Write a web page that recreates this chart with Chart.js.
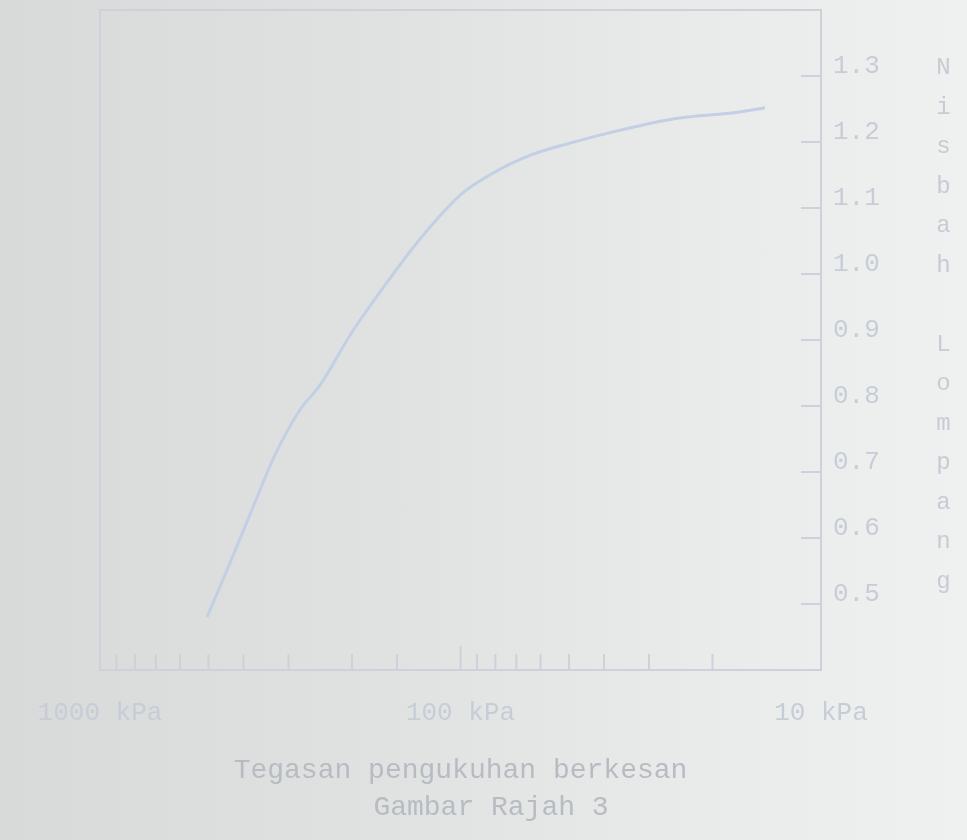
<!DOCTYPE html>
<html>
<head>
<meta charset="utf-8">
<script src="https://cdn.jsdelivr.net/npm/chart.js@4.4.1/dist/chart.umd.min.js"></script>
<style>
  html, body { margin: 0; padding: 0; }
  body {
    width: 967px; height: 840px; overflow: hidden; position: relative;
    background: linear-gradient(90deg, #d8dad9 0%, #e0e2e1 40%, #e9ebeb 72%, #eff1f1 100%);
  }
  #wrap { position: absolute; left: 0; top: 0; width: 967px; height: 840px; }
  #yTitle {
    position: absolute; left: 930px; top: 54px;
    writing-mode: vertical-lr; text-orientation: upright;
    font: 24px "Liberation Mono", monospace; letter-spacing: 12.5px;
    color: #c6cbd4;
  }
  #caption {
    position: absolute; left: 291px; width: 400px; top: 792px;
    text-align: center;
    font: 28px "Liberation Mono", monospace;
    color: #b7bbc2;
  }
</style>
</head>
<body>
<div id="wrap"><canvas id="voidRatioChart"></canvas></div>
<div id="yTitle">Nisbah Lompang</div>
<div id="caption">Gambar Rajah 3</div>
<script>
// e - log p curve, axes drawn mirrored as in the scan
const stressKPa = [505, 450, 384, 327, 279, 245, 202, 162, 130, 100, 83, 64, 50, 36, 25, 17, 14.3];
const voidRatio = [0.480, 0.544, 0.635, 0.726, 0.794, 0.832, 0.908, 0.983, 1.052, 1.120, 1.150, 1.180, 1.198, 1.218, 1.236, 1.245, 1.252];
const xLabelValues = [10, 100, 1000];
const yTickValues = [0.5, 0.6, 0.7, 0.8, 0.9, 1.0, 1.1, 1.2, 1.3];

const inkColor = '#c7ccd6';
const darkInk = '#b7bbc2';
const mono = "'Liberation Mono', 'DejaVu Sans Mono', monospace";

// frame plus tick marks pointing into the plot
const inwardTicks = {
    id: 'inwardTicks',
    afterDraw(chart) {
        const { ctx, chartArea: a, scales } = chart;
        ctx.save();
        ctx.strokeStyle = '#ccd1da';
        ctx.lineWidth = 2;
        ctx.strokeRect(a.left, a.top, a.right - a.left, a.bottom - a.top);
        ctx.beginPath();
        scales.x.ticks.forEach(t => {
            const px = scales.x.getPixelForValue(t.value);
            const lg = Math.log10(t.value);
            const len = Math.abs(lg - Math.round(lg)) < 1e-6 ? 24 : 16;
            ctx.moveTo(px, a.bottom);
            ctx.lineTo(px, a.bottom - len);
        });
        scales.y.ticks.forEach(t => {
            const py = scales.y.getPixelForValue(t.value);
            ctx.moveTo(a.right, py);
            ctx.lineTo(a.right - 20, py);
        });
        ctx.stroke();
        ctx.restore();
    }
};

const ctx = document.getElementById('voidRatioChart');

new Chart(ctx, {
    type: 'line',
    data: {
        datasets: [{
            label: 'Nisbah lompang',
            data: stressKPa.map((s, i) => ({ x: s, y: voidRatio[i] })),
            borderColor: '#c3cfe4',
            borderWidth: 3,
            pointRadius: 0,
            cubicInterpolationMode: 'monotone',
            fill: false
        }]
    },
    options: {
        responsive: true,
        maintainAspectRatio: false,
        animation: false,
        layout: { padding: { left: 100, top: 10, right: 0, bottom: 48 } },
        plugins: {
            legend: { display: false },
            tooltip: { enabled: false }
        },
        scales: {
            x: {
                type: 'logarithmic',
                reverse: true,
                min: 10,
                max: 1000,
                afterFit(scale) { scale.height = 122; },
                grid: { drawOnChartArea: false, drawTicks: false },
                border: { display: true, color: '#ccd1da', width: 2 },
                ticks: {
                    autoSkip: false,
                    maxRotation: 0,
                    padding: 28,
                    color: inkColor,
                    font: { family: mono, size: 26 },
                    callback: (v) => xLabelValues.includes(v) ? v + ' kPa' : ''
                },
                title: {
                    display: true,
                    text: 'Tegasan pengukuhan berkesan',
                    color: darkInk,
                    font: { family: mono, size: 28, weight: 'normal' },
                    padding: { top: 0, bottom: 5 }
                }
            },
            y: {
                position: 'right',
                min: 0.4,
                max: 1.4,
                afterFit(scale) {
                    scale.width = 146;
                    scale.paddingTop = 0;
                    scale.paddingBottom = 0;
                },
                afterBuildTicks(scale) { scale.ticks = yTickValues.map(v => ({ value: v })); },
                grid: { drawOnChartArea: false, drawTicks: false },
                border: { display: true, color: '#c8cedb', width: 2 },
                ticks: {
                    padding: 12,
                    labelOffset: -10,
                    color: inkColor,
                    font: { family: mono, size: 26 },
                    callback: (v) => v.toFixed(1)
                }
            }
        }
    },
    plugins: [inwardTicks]
});
</script>
</body>
</html>
